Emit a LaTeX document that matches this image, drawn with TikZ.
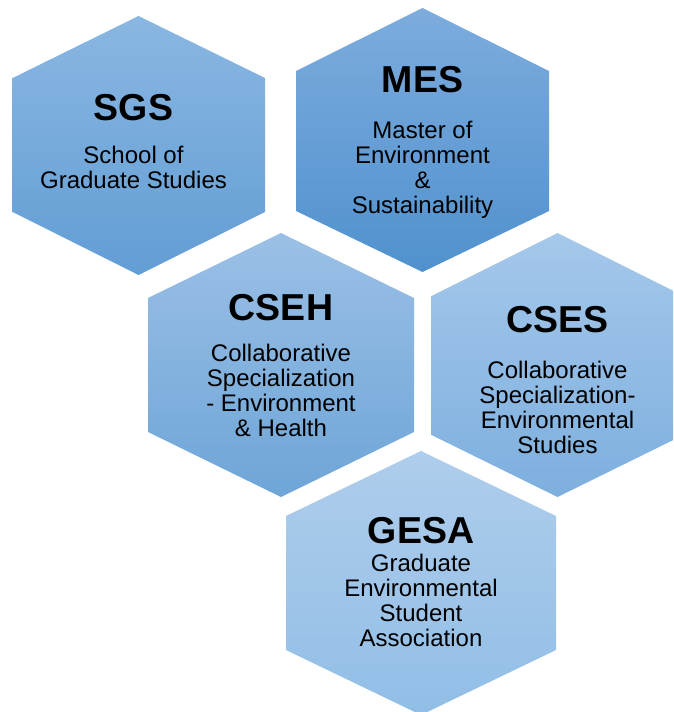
\documentclass[tikz,border=0pt]{standalone}
\usepackage{fontspec}
\setmainfont{Liberation Sans}
\usepackage{tikz}

\begin{document}
\begin{tikzpicture}[x=1pt,y=-1pt,
  title/.style={anchor=base,inner sep=0pt,font=\fontsize{37.5}{40}\selectfont\bfseries},
  body/.style={anchor=north,inner sep=0pt,align=center,font=\fontsize{24}{25}\selectfont}]
\definecolor{sgsTop}{RGB}{138,183,226}
\definecolor{sgsBot}{RGB}{98,157,212}
\definecolor{mesTop}{RGB}{125,172,222}
\definecolor{mesBot}{RGB}{80,145,205}
\definecolor{csehTop}{RGB}{155,192,230}
\definecolor{csehBot}{RGB}{110,165,215}
\definecolor{csesTop}{RGB}{165,200,235}
\definecolor{csesBot}{RGB}{125,175,222}
\definecolor{gesaTop}{RGB}{175,205,236}
\definecolor{gesaBot}{RGB}{145,190,230}
\useasboundingbox (0,0) rectangle (673,712);
\clip (0,0) rectangle (673,712);
% hexagons
\shade[top color=sgsTop,bottom color=sgsBot]  (138.5,16) -- (265,78) -- (265,212) -- (138.5,275) -- (12.7,212) -- (12.7,78) -- cycle;
\shade[top color=mesTop,bottom color=mesBot]  (422.5,8) -- (549,71) -- (549,211) -- (422.5,272) -- (296,211) -- (296,71) -- cycle;
\shade[top color=csehTop,bottom color=csehBot]  (281,233) -- (414,298) -- (414,432) -- (281,497) -- (148,432) -- (148,298) -- cycle;
\shade[top color=csesTop,bottom color=csesBot]  (557.5,233) -- (683.5,296) -- (683.5,435) -- (557.5,497) -- (431.5,435) -- (431.5,296) -- cycle;
\shade[top color=gesaTop,bottom color=gesaBot]  (421,451) -- (556,516) -- (556,650) -- (421,715) -- (286,650) -- (286,516) -- cycle;
% labels
\node[title] (sgs) at (133.5,120) {SGS};
\node[body] (sgsText) at (133.5,145.5) {\strut School of\\Graduate Studies};
\node[title] (mes) at (422.5,92.7) {MES};
\node[body] (mesText) at (422.5,120.5) {\strut Master of\\Environment\\\&\\Sustainability};
\node[title] (cseh) at (281,320) {CSEH};
\node[body] (csehText) at (281,344.2) {\strut Collaborative\\Specialization\\- Environment\\\& Health};
\node[title] (cses) at (557.5,332.7) {CSES};
\node[body] (csesText) at (557.5,360.5) {\strut Collaborative\\Specialization-\\Environmental\\Studies};
\node[title] (gesa) at (421,543) {GESA};
\node[body] (gesaText) at (421,554.2) {\strut Graduate\\Environmental\\Student\\Association};
\end{tikzpicture}
\end{document}
